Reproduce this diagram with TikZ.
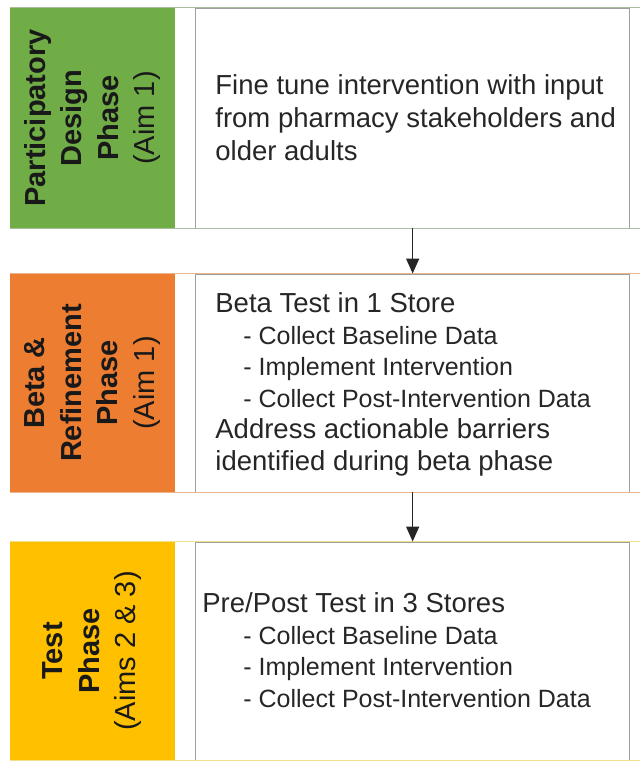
\documentclass[tikz,border=0pt]{standalone}
\usepackage{fontspec}
\setmainfont{Liberation Sans}
\usetikzlibrary{positioning,arrows.meta}

\definecolor{aimgreen}{HTML}{70AD47}
\definecolor{aimorange}{HTML}{ED7D31}
\definecolor{aimyellow}{HTML}{FFC000}
\definecolor{linegreen}{HTML}{A9BC9C}
\definecolor{lineorange}{HTML}{E9B48E}
\definecolor{lineyellow}{HTML}{F0E08A}

\newcommand{\substep}[1]{{\fontsize{25}{31.5}\selectfont - #1}}

\begin{document}
\begin{tikzpicture}[x=1pt, y=1pt, node distance=20pt,
  phase/.style={rectangle, minimum width=165pt, inner sep=0pt},
  phaselabel/.style={rotate=90, align=center, inner sep=0pt, text=black!90, font=\fontsize{29}{36.5}\selectfont\bfseries},
  stepbox/.style={rectangle, draw=gray!75, line width=0.9pt, minimum width=434pt, inner sep=0pt},
  steptext/.style={anchor=west, align=left, inner sep=0pt, text=black!85, font=\fontsize{27.5}{31.5}\selectfont},
  frame/.style={line width=1.2pt},
  arrow/.style={-{Triangle[width=13pt,length=15pt]}, line width=1.4pt, black!85}]

  \useasboundingbox (0,0) rectangle (640,-762);
  \coordinate (edge) at (640,0);

  % phase cells on the left
  \node[phase, fill=aimgreen, minimum height=220pt] (p1) at (92.5,-118) {};
  \node[phase, fill=aimorange, minimum height=218pt] (p2) at (92.5,-383) {};
  \node[phase, fill=aimyellow, minimum height=218pt] (p3) at (92.5,-651) {};

  \node[phaselabel] (l1) at (p1) {Participatory\\Design\\Phase\\\mdseries(Aim 1)};
  \node[phaselabel] (l2) at (p2) {Beta \&\\Refinement\\Phase\\\mdseries(Aim 1)};
  \node[phaselabel] (l3) at (p3) {Test\\Phase\\\mdseries(Aims 2 \& 3)};

  % step boxes
  \node[stepbox, right=of p1, minimum height=220pt] (b1) {};
  \node[stepbox, right=of p2, minimum height=218pt] (b2) {};
  \node[stepbox, right=of p3, minimum height=218pt] (b3) {};

  \node[steptext, font=\fontsize{27.5}{33}\selectfont] (t1) at ([xshift=20pt]b1.west)
    {Fine tune intervention with input\\from pharmacy stakeholders and\\older adults};
  \node[steptext] (t2) at ([xshift=20pt, yshift=-1.5pt]b2.west)
    {Beta Test in 1 Store\\
     \hspace*{28pt}\substep{Collect Baseline Data}\\
     \hspace*{28pt}\substep{Implement Intervention}\\
     \hspace*{28pt}\substep{Collect Post-Intervention Data}\\
     Address actionable barriers\\
     identified during beta phase};
  \node[steptext] (t3) at ([xshift=7pt, yshift=1pt]b3.west)
    {Pre/Post Test in 3 Stores\\
     \hspace*{41pt}\substep{Collect Baseline Data}\\
     \hspace*{41pt}\substep{Implement Intervention}\\
     \hspace*{41pt}\substep{Collect Post-Intervention Data}};

  % row frames
  \draw[frame, linegreen] (p1.north west) -- (p1.north west -| edge);
  \draw[frame, linegreen] (p1.south west) -- (p1.south west -| edge);
  \draw[frame, lineorange] (p2.north west) -- (p2.north west -| edge);
  \draw[frame, lineorange] (p2.south west) -- (p2.south west -| edge);
  \draw[frame, lineyellow] (p3.north west) -- (p3.north west -| edge);
  \draw[frame, lineyellow] (p3.south west) -- (p3.south west -| edge);

  \draw[arrow] (b1.south) -- (b2.north);
  \draw[arrow] (b2.south) -- (b3.north);
\end{tikzpicture}
\end{document}
